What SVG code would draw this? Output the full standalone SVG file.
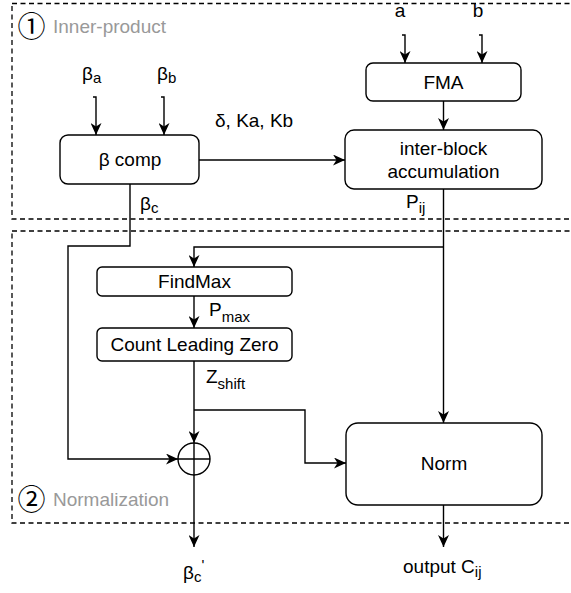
<svg xmlns="http://www.w3.org/2000/svg" width="571" height="593" viewBox="0 0 571 593">
<style>
.t{font-family:"Liberation Sans",Arial,sans-serif;font-size:19px;fill:#000}
.m{text-anchor:middle}
.s{font-size:15px}
.g{fill:#999999}
.c{font-family:"Noto Sans CJK JP","DejaVu Sans",sans-serif;font-size:28px;fill:#000;text-anchor:middle}
.box{fill:#fff;stroke:#000;stroke-width:1.4}
.dash{fill:none;stroke:#000;stroke-width:1.3;stroke-dasharray:5 3.5}
.ln{fill:none;stroke:#000;stroke-width:1.4}
.ar{marker-end:url(#arr)}
</style>
<defs>
<marker id="arr" viewBox="0 0 12 11" refX="12" refY="5.5" markerWidth="12" markerHeight="11" markerUnits="userSpaceOnUse" orient="auto">
<path d="M0,0 L12,5.5 L0,11 L3.5,5.5 Z" fill="#000"/>
</marker>
</defs>
<rect width="571" height="593" fill="#fff"/>

<g id="region-inner-product">
<rect class="dash" x="12" y="3.5" width="600" height="215.5"/>
<text class="c" x="31.5" y="36.5">①</text>
<text class="t g" x="53" y="33">Inner-product</text>
</g>
<g id="region-normalization">
<rect class="dash" x="12" y="231" width="600" height="292"/>
<text class="c" x="31.5" y="510">②</text>
<text class="t g" x="53" y="506">Normalization</text>
</g>

<g id="connectors">
<path class="ln ar" d="M93,97 L96,97 L96,135"/>
<path class="ln ar" d="M161,97 L164,97 L164,135"/>
<path class="ln ar" d="M402,35 L405,35 L405,63"/>
<path class="ln ar" d="M479,35 L482,35 L482,63"/>
<path class="ln ar" d="M443.5,101 L443.5,130"/>
<path class="ln ar" d="M199,160 L345,160"/>
<path class="ln ar" d="M443.5,189 L443.5,423"/>
<path class="ln ar" d="M443.5,247 L194,247 L194,267"/>
<path class="ln ar" d="M194,296 L194,328"/>
<path class="ln ar" d="M194,361 L194,443"/>
<path class="ln ar" d="M194,410 L305,410 L305,463 L346,463"/>
<path class="ln ar" d="M130,184 L130,246 L68,246 L68,459 L178,459"/>
<path class="ln ar" d="M194,475 L194,547"/>
<path class="ln ar" d="M443.5,505 L443.5,547"/>
</g>

<g id="label-beta-a"><text class="t" x="82" y="80">β<tspan class="s" dy="3">a</tspan></text></g>
<g id="label-beta-b"><text class="t" x="157" y="80">β<tspan class="s" dy="3">b</tspan></text></g>
<g id="label-a"><text class="t m" x="400" y="17">a</text></g>
<g id="label-b"><text class="t m" x="478" y="17">b</text></g>
<g id="label-delta"><text class="t" x="215" y="127">δ, Ka, Kb</text></g>
<g id="label-beta-c"><text class="t" x="140" y="210">β<tspan class="s" dy="3">c</tspan></text></g>
<g id="label-pij"><text class="t" x="406" y="208">P<tspan class="s" dy="5">ij</tspan></text></g>
<g id="label-pmax"><text class="t" x="209" y="316">P<tspan class="s" dy="6">max</tspan></text></g>
<g id="label-zshift"><text class="t" x="206" y="383">Z<tspan class="s" dy="6">shift</tspan></text></g>
<g id="label-beta-c-prime"><text class="t" x="183" y="579">β<tspan class="s" dy="3">c</tspan><tspan class="s" dy="-12">'</tspan></text></g>
<g id="label-output"><text class="t" x="403" y="573">output C<tspan class="s" dy="4">ij</tspan></text></g>

<g id="node-beta-comp">
<rect class="box" x="60" y="135" width="139" height="49" rx="8"/>
<text class="t m" x="130" y="166">β comp</text>
</g>
<g id="node-fma">
<rect class="box" x="366" y="63" width="155" height="38" rx="7"/>
<text class="t m" x="443.5" y="89">FMA</text>
</g>
<g id="node-inter-block">
<rect class="box" x="345" y="130" width="197" height="59" rx="9"/>
<text class="t m" x="443.5" y="155">inter-block</text>
<text class="t m" x="443.5" y="178">accumulation</text>
</g>
<g id="node-findmax">
<rect class="box" x="97" y="267" width="195" height="29" rx="5"/>
<text class="t m" x="194.5" y="288">FindMax</text>
</g>
<g id="node-clz">
<rect class="box" x="97" y="328" width="195" height="33" rx="5"/>
<text class="t m" x="194.5" y="351">Count Leading Zero</text>
</g>
<g id="node-adder">
<circle cx="194" cy="459" r="16" fill="none" stroke="#000" stroke-width="1.4"/>
<path class="ln" d="M178,459 L210,459 M194,443 L194,475"/>
</g>
<g id="node-norm">
<rect class="box" x="346" y="423" width="196" height="82" rx="12"/>
<text class="t m" x="444" y="470">Norm</text>
</g>
</svg>
